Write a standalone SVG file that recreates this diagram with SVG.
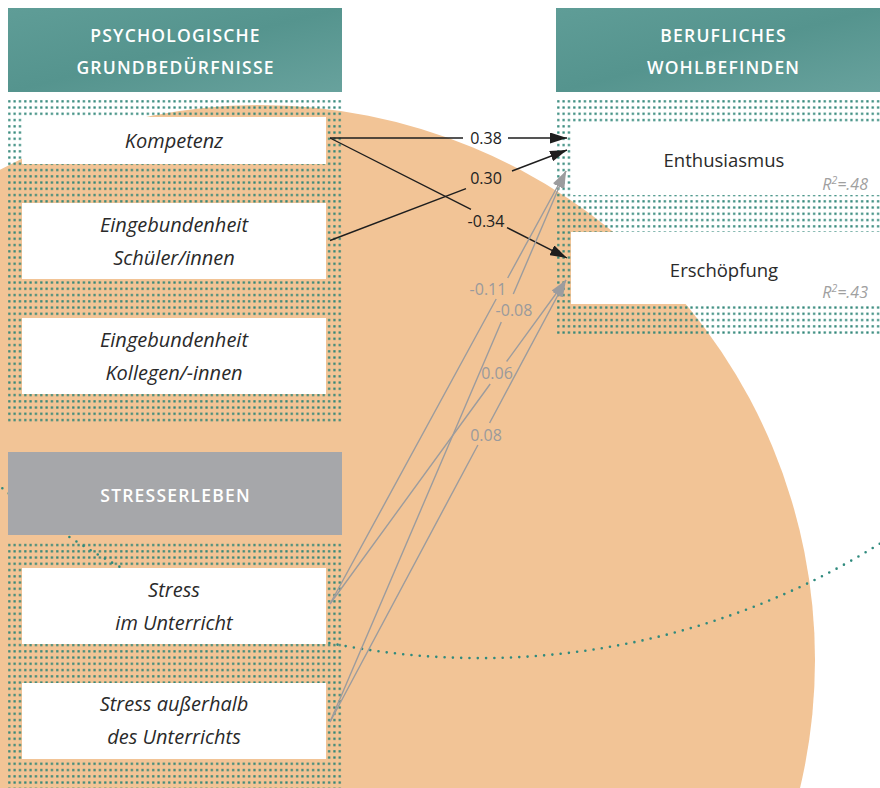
<svg xmlns="http://www.w3.org/2000/svg" width="880" height="788" viewBox="0 0 880 788">
  <defs>
    <pattern id="dots" x="8" y="100" width="5.33" height="6.25" patternUnits="userSpaceOnUse">
      <rect x="0.2" y="0.2" width="2.2" height="2.2" fill="#2c8476"/>
    </pattern>
    <linearGradient id="teal" x1="0" y1="0" x2="1" y2="1">
      <stop offset="0" stop-color="#5f9d97"/>
      <stop offset="0.5" stop-color="#55948e"/>
      <stop offset="1" stop-color="#68a29d"/>
    </linearGradient>
    <marker id="head-dark" markerUnits="userSpaceOnUse" viewBox="0 0 17 11" markerWidth="17" markerHeight="11" refX="17" refY="5.5" orient="auto">
      <path d="M0,0 L17,5.5 L0,11 z" fill="#1e1e1e"/>
    </marker>
    <marker id="head-gray" markerUnits="userSpaceOnUse" viewBox="0 0 17 11" markerWidth="17" markerHeight="11" refX="17" refY="5.5" orient="auto">
      <path d="M0,0 L17,5.5 L0,11 z" fill="#9c9c9e"/>
    </marker>
  </defs>
  <style>
    .hdr { fill: url(#teal); }
    .hdr-gray { fill: #a6a7aa; }
    .panel { fill: url(#dots); }
    .box { fill: #ffffff; }
    .hdr-text { font-family: "Open Sans", "Liberation Sans", sans-serif; font-size: 17.5px; font-weight: 600; fill: #ffffff; letter-spacing: 1.2px; text-anchor: middle; }
    .txt-it { font-family: "Open Sans", "Liberation Sans", sans-serif; font-style: italic; font-size: 20px; fill: #2a2a2a; text-anchor: middle; }
    .txt { font-family: "Open Sans", "Liberation Sans", sans-serif; font-size: 18.5px; fill: #2a2a2a; text-anchor: middle; }
    .r2 { font-family: "Open Sans", "Liberation Sans", sans-serif; font-style: italic; font-size: 16px; fill: #a0a0a0; text-anchor: end; }
    .w { font-family: "Open Sans", "Liberation Sans", sans-serif; font-size: 16px; text-anchor: middle; }
    .w-dark { fill: #222222; }
    .w-gray { fill: #9a9a9c; }
    .edge-dark { fill: none; stroke: #1e1e1e; stroke-width: 1.4; marker-end: url(#head-dark); }
    .edge-gray { fill: none; stroke: #9c9c9e; stroke-width: 1.4; marker-end: url(#head-gray); }
    .orbit { fill: none; stroke: #2f8a7d; stroke-width: 2.6; stroke-linecap: round; stroke-dasharray: 0 8.3; }
  </style>

  <rect width="880" height="788" fill="#ffffff"/>

  <!-- backdrop -->
  <circle cx="260" cy="660" r="555" fill="#f2c496"/>

  <!-- dotted panels behind the node boxes -->
  <g id="panels">
    <rect class="panel" x="8" y="99" width="334" height="326"/>
    <rect class="panel" x="8" y="543" width="334" height="245"/>
    <rect class="panel" x="556" y="99" width="324" height="235"/>
  </g>

  <!-- dotted orbit line -->
  <path class="orbit" d="M -4,483 A 756 756 0 0 0 884,541"/>

  <!-- left column: psychological needs -->
  <g id="psych-header">
    <rect class="hdr" x="8" y="8" width="334" height="84"/>
    <text class="hdr-text" x="175.6" y="42">PSYCHOLOGISCHE</text>
    <text class="hdr-text" x="175.6" y="74">GRUNDBEDÜRFNISSE</text>
  </g>
  <g id="kompetenz">
    <rect class="box" x="22" y="117" width="304" height="47"/>
    <text class="txt-it" x="174" y="148">Kompetenz</text>
  </g>
  <g id="eingebundenheit-schueler">
    <rect class="box" x="22" y="203" width="304" height="76"/>
    <text class="txt-it" x="174" y="232">Eingebundenheit</text>
    <text class="txt-it" x="174" y="265">Schüler/innen</text>
  </g>
  <g id="eingebundenheit-kollegen">
    <rect class="box" x="22" y="318" width="304" height="76"/>
    <text class="txt-it" x="174" y="347">Eingebundenheit</text>
    <text class="txt-it" x="174" y="380">Kollegen/-innen</text>
  </g>

  <!-- left column: stress -->
  <g id="stress-header">
    <rect class="hdr-gray" x="8" y="452" width="334" height="83"/>
    <text class="hdr-text" x="175.6" y="502">STRESSERLEBEN</text>
  </g>
  <g id="stress-unterricht">
    <rect class="box" x="22" y="568" width="304" height="76"/>
    <text class="txt-it" x="174" y="597">Stress</text>
    <text class="txt-it" x="174" y="630">im Unterricht</text>
  </g>
  <g id="stress-ausserhalb">
    <rect class="box" x="22" y="683" width="304" height="76"/>
    <text class="txt-it" x="174" y="711">Stress außerhalb</text>
    <text class="txt-it" x="174" y="744">des Unterrichts</text>
  </g>

  <!-- right column: occupational well-being -->
  <g id="wohl-header">
    <rect class="hdr" x="556" y="8" width="324" height="84"/>
    <text class="hdr-text" x="723.6" y="42">BERUFLICHES</text>
    <text class="hdr-text" x="723.6" y="74">WOHLBEFINDEN</text>
  </g>
  <g id="enthusiasmus">
    <rect class="box" x="571" y="122" width="309" height="73"/>
    <text class="txt" x="724" y="167">Enthusiasmus</text>
    <text class="r2" x="868" y="190">R<tspan font-size="10.5" dy="-6">2</tspan><tspan dy="6">=.48</tspan></text>
  </g>
  <g id="erschoepfung">
    <rect class="box" x="571" y="232" width="309" height="72"/>
    <text class="txt" x="724" y="277">Erschöpfung</text>
    <text class="r2" x="868" y="298">R<tspan font-size="10.5" dy="-6">2</tspan><tspan dy="6">=.43</tspan></text>
  </g>

  <!-- paths with their weights -->
  <g id="connectors">
    <path class="edge-dark" d="M330,138 L463,138 M508,138 L567,138"/>
    <text class="w w-dark" x="486" y="143.5">0.38</text>

    <path class="edge-dark" d="M330,240.5 L466,188.6 M512,171 L567,150"/>
    <text class="w w-dark" x="486" y="184">0.30</text>

    <path class="edge-dark" d="M330,138 L471,209.4 M507,227.6 L567,258"/>
    <text class="w w-dark" x="486" y="226.5">-0.34</text>

    <path class="edge-gray" d="M330,604 L496.2,299 M507.7,278 L566,171"/>
    <text class="w w-gray" x="488" y="294.5">-0.11</text>

    <path class="edge-gray" d="M330,722 L501.3,322 M513.3,294 L566,171"/>
    <text class="w w-gray" x="514" y="316">-0.08</text>

    <path class="edge-gray" d="M330,604 L490.2,384 M506.6,361.5 L566,280"/>
    <text class="w w-gray" x="497" y="378.5">0.06</text>

    <path class="edge-gray" d="M330,722 L477.9,445 M489.6,423 L566,280"/>
    <text class="w w-gray" x="486" y="440.5">0.08</text>
  </g>
</svg>
